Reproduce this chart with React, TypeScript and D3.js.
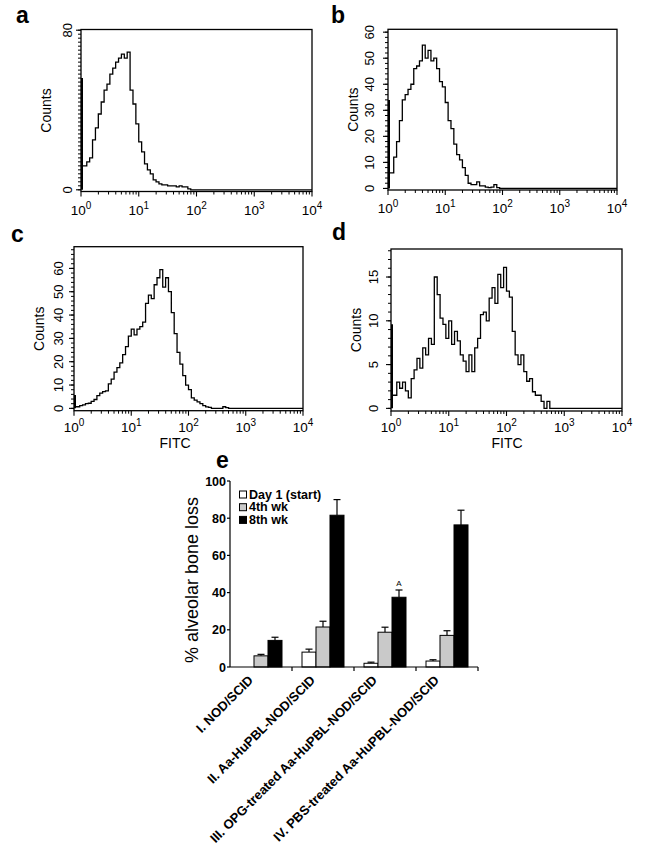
import React from "react";
import * as d3 from "d3";

// ---------- Histogram data (counts per 0.05-decade channel, starting at 10^0) ----------
const LOG_STEP = 0.05;
const histA = [12, 12, 14, 16, 25, 31, 38, 44, 50, 53, 58, 61, 64, 66, 68, 66, 69, 50, 43, 33, 24, 19, 13, 10, 8, 5, 4, 3, 2.5, 2.5, 2, 2, 2, 1.5, 2, 1.5, 1.5, 0.5, 0];
const edgeA = 56;
const histB = [6, 6, 12, 18, 26, 34, 36, 38, 40, 46, 47, 49, 55, 50, 53, 49, 50, 46, 41, 39, 33, 26, 23, 17, 13, 11, 8, 5, 2, 1.5, 1.5, 2.5, 1, 1, 0.5, 0.3, 0.5, 1.5, 0.3, 0];
const edgeB = 34;
const histC = [0.7, 0.7, 1.2, 1.5, 2, 2.2, 3, 3.8, 5.5, 6.5, 7.2, 7.5, 10.5, 12.5, 15.5, 17.5, 19.5, 23, 26.5, 31, 34, 31.5, 34, 35, 37, 45, 48.5, 47, 53, 56, 59.5, 52, 56, 50, 41, 32, 24, 19, 14, 10, 8, 4.5, 3.5, 2.8, 2, 1.2, 0.6, 0.4, 0, 0, 0, 0, 0.7, 0.3, 0];
const edgeC = 5.7;
const histD = [1.5, 1.5, 3, 2.3, 3, 2, 1.2, 3.4, 4.4, 5.7, 4.6, 6.9, 6.1, 8, 7.3, 15, 13, 10.3, 9.6, 8, 10, 7.3, 8.8, 7.7, 6.1, 5.4, 4.2, 6.1, 4.2, 6.9, 8, 10.7, 11, 10, 12.6, 13.8, 12, 15.3, 13.8, 16.1, 13.4, 12.7, 8.8, 6.1, 5, 6.1, 4.2, 3.1, 3.4, 1.9, 1.5, 1.5, 0.8, 0, 0.8, 0];
const edgeD = 9.6;

const xDecades = [0, 1, 2, 3, 4];

// ---------- Bar chart data (panel e) ----------
const groups = [
  "I. NOD/SCID",
  "II. Aa-HuPBL-NOD/SCID",
  "III. OPG-treated Aa-HuPBL-NOD/SCID",
  "IV. PBS-treated Aa-HuPBL-NOD/SCID",
];
const seriesNames = ["Day 1 (start)", "4th wk", "8th wk"];
const day1 = [0, 8, 2, 3.2];
const day1Err = [0, 1.6, 0.6, 0.7];
const wk4 = [6, 21.5, 18.7, 17];
const wk4Err = [0.8, 3.1, 2.7, 2.5];
const wk8 = [14.3, 81.6, 37.5, 76.4];
const wk8Err = [1.7, 8.4, 3.9, 7.9];
const eTicks = [0, 20, 40, 60, 80, 100];
const seriesFill = ["#ffffff", "#c9c9c9", "#000000"];

const FONT = "'Liberation Sans', Arial, Helvetica, sans-serif";

type HistProps = {
  counts: number[];
  edge: number;
  x0: number; x1: number; y0: number; y1: number;
  yDomain: [number, number];
  yLabels: number[];
  yMinor: number;
  yLabelOff: number;
  xLabelY: number;
  fitc?: { x: number; y: number };
};

function Histogram(p: HistProps) {
  const x = d3.scaleLog().domain([1, 10000]).range([p.x0, p.x1]);
  const y = d3.scaleLinear().domain(p.yDomain).range([p.y1, p.y0]);
  const pts: [number, number][] = p.counts.map((c, i) => [Math.pow(10, i * LOG_STEP), c]);
  pts.push([Math.pow(10, p.counts.length * LOG_STEP), 0]);
  pts.push([10000, 0]);
  const line = d3
    .line<[number, number]>()
    .x((d) => x(d[0]))
    .y((d) => y(d[1]))
    .curve(d3.curveStepAfter);

  const minorX: number[] = [];
  for (let dec = 0; dec < 4; dec++) for (let k = 2; k <= 9; k++) minorX.push(k * Math.pow(10, dec));
  const minorY: number[] = [];
  const top = y.domain()[1];
  for (let v = 0; v <= top + 1e-6; v += p.yMinor) minorY.push(v);
  const cy = (p.y0 + p.y1) / 2;
  const countsX = p.x0 - 30;

  return (
    <g>
      <rect x={p.x0} y={p.y0} width={p.x1 - p.x0} height={p.y1 - p.y0} fill="none" stroke="#000" strokeWidth={1.3} />
      {xDecades.map((d) => (
        <line key={"M" + d} x1={x(Math.pow(10, d))} x2={x(Math.pow(10, d))} y1={p.y1} y2={p.y1 + 5} stroke="#000" strokeWidth={1.1} />
      ))}
      {minorX.map((v) => (
        <line key={"m" + v} x1={x(v)} x2={x(v)} y1={p.y1} y2={p.y1 + 3} stroke="#000" strokeWidth={1} />
      ))}
      {minorY.map((v) => (
        <line key={"y" + v} x1={p.x0 - 3} x2={p.x0} y1={y(v)} y2={y(v)} stroke="#000" strokeWidth={1} />
      ))}
      {p.yLabels.map((v) => (
        <line key={"Y" + v} x1={p.x0 - 5} x2={p.x0} y1={y(v)} y2={y(v)} stroke="#000" strokeWidth={1.1} />
      ))}
      {p.yLabels.map((v) => (
        <text key={"yl" + v} x={p.x0 - p.yLabelOff} y={y(v)} transform={`rotate(-90 ${p.x0 - p.yLabelOff} ${y(v)})`} textAnchor="middle" fontFamily={FONT} fontSize={13}>
          {v}
        </text>
      ))}
      {xDecades.map((d) => (
        <text key={"xl" + d} x={x(Math.pow(10, d))} y={p.xLabelY} textAnchor="middle" fontFamily={FONT} fontSize={13.5}>
          10<tspan dy={-6} fontSize={10}>{d}</tspan>
        </text>
      ))}
      <text x={countsX} y={cy} transform={`rotate(-90 ${countsX} ${cy})`} textAnchor="middle" fontFamily={FONT} fontSize={14}>
        Counts
      </text>
      {p.fitc && (
        <text x={p.fitc.x} y={p.fitc.y} textAnchor="middle" fontFamily={FONT} fontSize={14}>
          FITC
        </text>
      )}
      <line x1={p.x0 + 1} x2={p.x0 + 1} y1={y(0)} y2={y(p.edge)} stroke="#000" strokeWidth={2} />
      <path d={line(pts) || ""} fill="none" stroke="#000" strokeWidth={1.3} />
    </g>
  );
}

function BarPanel() {
  const ax0 = 230, ax1 = 478, yb = 667, yt = 481;
  const x = d3.scaleBand<string>().domain(groups).range([ax0, ax1]).padding(0);
  const bw = x.bandwidth();
  const inner = d3.scaleBand<string>().domain(seriesNames).range([10, bw - 10]).padding(0);
  const y = d3.scaleLinear().domain([0, 100]).range([yb, yt]);
  const vals = [day1, wk4, wk8];
  const errs = [day1Err, wk4Err, wk8Err];
  const w = inner.bandwidth();
  return (
    <g fontFamily={FONT}>
      {groups.map((g, gi) =>
        seriesNames.map((s, si) => {
          const v = vals[si][gi];
          if (v <= 0) return null;
          const bx = (x(g) as number) + (inner(s) as number);
          const e = errs[si][gi];
          const cx = bx + w / 2;
          return (
            <g key={g + s}>
              <line x1={cx} x2={cx} y1={y(v)} y2={y(v + e)} stroke="#000" strokeWidth={1.2} />
              <line x1={cx - 3.5} x2={cx + 3.5} y1={y(v + e)} y2={y(v + e)} stroke="#000" strokeWidth={1.2} />
              <rect x={bx} y={y(v)} width={w} height={yb - y(v)} fill={seriesFill[si]} stroke="#000" strokeWidth={1} />
            </g>
          );
        })
      )}
      <line x1={ax0} x2={ax0} y1={yt} y2={yb} stroke="#000" strokeWidth={1.2} />
      <line x1={ax0} x2={ax1} y1={yb} y2={yb} stroke="#000" strokeWidth={1.2} />
      {eTicks.map((t) => (
        <g key={t}>
          <line x1={ax0 - 3} x2={ax0} y1={y(t)} y2={y(t)} stroke="#000" strokeWidth={1.2} />
          <text x={ax0 - 4} y={y(t) + 4.5} textAnchor="end" fontSize={12.5} fontWeight="bold">
            {t}
          </text>
        </g>
      ))}
      {groups.map((g) => (
        <line key={"t" + g} x1={(x(g) as number) + bw} x2={(x(g) as number) + bw} y1={yb} y2={yb + 4} stroke="#000" strokeWidth={1.2} />
      ))}
      {groups.map((g) => {
        const cx = (x(g) as number) + bw / 2 - 7;
        const cy = 681;
        return (
          <text key={"l" + g} x={cx} y={cy} transform={`rotate(-45 ${cx} ${cy})`} textAnchor="end" fontSize={13} fontWeight="bold">
            {g}
          </text>
        );
      })}
      <text x={(x(groups[2]) as number) + (inner(seriesNames[2]) as number) + w / 2} y={y(wk8[2] + wk8Err[2]) - 4} textAnchor="middle" fontSize={8}>
        A
      </text>
      {seriesNames.map((s, i) => (
        <g key={"lg" + s}>
          <rect x={239.5} y={491 + i * 12.7} width={7} height={7} fill={seriesFill[i]} stroke="#000" strokeWidth={1} />
          <text x={249} y={498.5 + i * 12.7} fontSize={12.5} fontWeight="bold">
            {s}
          </text>
        </g>
      ))}
      <text x={197.5} y={580} transform="rotate(-90 197.5 580)" textAnchor="middle" fontSize={18}>
        % alveolar bone loss
      </text>
    </g>
  );
}

export default function App() {
  return (
    <div style={{ position: "absolute", left: 0, top: 0 }}>
      <svg width={657} height={853} viewBox="0 0 657 853" style={{ display: "block", background: "#fff" }}>
        <rect x={0} y={0} width={657} height={853} fill="#fff" />
        <Histogram counts={histA} edge={edgeA} x0={81} x1={312} y0={29.5} y1={191.5} yDomain={[-0.85, 80.35]} yLabels={[0, 80]} yMinor={2} yLabelOff={9} xLabelY={215} />
        <Histogram counts={histB} edge={edgeB} x0={388} x1={617} y0={29.3} y1={190} yDomain={[-0.6, 61.1]} yLabels={[0, 10, 20, 30, 40, 50, 60]} yMinor={2} yLabelOff={14} xLabelY={213} />
        <Histogram counts={histC} edge={edgeC} x0={74} x1={303} y0={246.7} y1={410.7} yDomain={[-1, 69.3]} yLabels={[0, 10, 20, 30, 40, 50, 60]} yMinor={2} yLabelOff={11} xLabelY={432} fitc={{ x: 175, y: 448 }} />
        <Histogram counts={histD} edge={edgeD} x0={391} x1={622} y0={249} y1={411} yDomain={[-0.3, 18.2]} yLabels={[0, 5, 10, 15]} yMinor={1} yLabelOff={13} xLabelY={432} fitc={{ x: 507, y: 448 }} />
        <BarPanel />
        <text x={16} y={23} fontFamily={FONT} fontWeight="bold" fontSize={23}>a</text>
        <text x={331} y={23} fontFamily={FONT} fontWeight="bold" fontSize={23}>b</text>
        <text x={11} y={242} fontFamily={FONT} fontWeight="bold" fontSize={23}>c</text>
        <text x={332} y={240} fontFamily={FONT} fontWeight="bold" fontSize={23}>d</text>
        <text x={216} y={468} fontFamily={FONT} fontWeight="bold" fontSize={23}>e</text>
      </svg>
    </div>
  );
}
